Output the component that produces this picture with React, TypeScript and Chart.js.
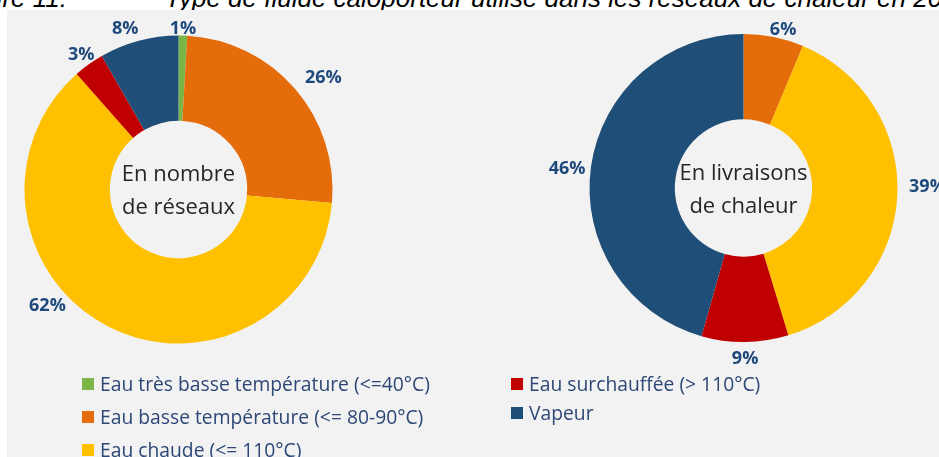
import React, { useEffect, useRef } from 'react';
import { Chart, registerables } from 'chart.js';

Chart.register(...registerables);

// ---------- data ----------
const categories = [
  'Eau très basse température (<=40°C)',
  'Eau basse température (<= 80-90°C)',
  'Eau chaude (<= 110°C)',
  'Eau surchauffée (> 110°C)',
  'Vapeur',
];
const sliceColors = ['#79b547', '#e46c0a', '#ffc000', '#c00000', '#1f4e79'];
const reseauxValues = [0.9, 25.5, 62.1, 3.2, 8.3];
const livraisonsValues = [0, 6.3, 39.0, 9.1, 45.6];
const reseauxCenter = ['En nombre', 'de réseaux'];
const livraisonsCenter = ['En livraisons', 'de chaleur'];
const titleLead = 'Figure 11:';
const titleText = 'Type de fluide caloporteur utilisé dans les réseaux de chaleur en 2019';

// legend layout: [column, row] for each category
const legendSlots = [
  [0, 0],
  [0, 1],
  [0, 2],
  [1, 0],
  [1, 1],
];

const FONT = "'Open Sans', 'DejaVu Sans', sans-serif";
const LABEL_SIZE = 18;

const outLabels = {
  id: 'outLabels',
  afterDatasetsDraw(chart: any, _args: any, opts: any) {
    const ctx = chart.ctx;
    const meta = chart.getDatasetMeta(0);
    const data = chart.data.datasets[0].data as number[];
    ctx.save();
    ctx.font = `bold ${LABEL_SIZE}px ${FONT}`;
    ctx.fillStyle = opts.color;
    ctx.textAlign = 'center';
    ctx.textBaseline = 'alphabetic';
    meta.data.forEach((arc: any, i: number) => {
      const v = data[i];
      if (!v) return;
      const p = arc.getProps(['x', 'y', 'startAngle', 'endAngle', 'outerRadius'], true);
      const nudge = (opts.nudges && opts.nudges[i]) || [0, 0];
      const a = (p.startAngle + p.endAngle) / 2 + (nudge[0] * Math.PI) / 180;
      const text = Math.round(v) + '%';
      const w = ctx.measureText(text).width;
      const h = LABEL_SIZE * 0.72;
      const ux = Math.cos(a);
      const uy = Math.sin(a);
      const d = p.outerRadius + opts.gap + (Math.abs(ux) * w) / 2 + (Math.abs(uy) * h) / 2 + nudge[1];
      ctx.fillText(text, p.x + ux * d, p.y + uy * d + h / 2);
    });
    ctx.restore();
  },
};

const centerText = {
  id: 'centerText',
  afterDatasetsDraw(chart: any, _args: any, opts: any) {
    const ctx = chart.ctx;
    const arc = chart.getDatasetMeta(0).data[0] as any;
    if (!arc) return;
    const { x, y } = arc.getProps(['x', 'y'], true);
    ctx.save();
    ctx.font = `22px ${FONT}`;
    ctx.fillStyle = '#262626';
    ctx.textAlign = 'center';
    ctx.textBaseline = 'alphabetic';
    const lines: string[] = opts.lines || [];
    ctx.fillText(lines[0] || '', x, y - 8.5);
    ctx.fillText(lines[1] || '', x, y + 24.5);
    ctx.restore();
  },
};

function Doughnut(props: { values: number[]; center: string[]; padding: any; nudges: number[][] }) {
  const ref = useRef<HTMLCanvasElement>(null);
  useEffect(() => {
    const chart = new Chart(ref.current as HTMLCanvasElement, {
      type: 'doughnut',
      data: {
        labels: categories,
        datasets: [
          {
            data: props.values,
            backgroundColor: sliceColors,
            borderWidth: 0,
          },
        ],
      },
      options: {
        responsive: false,
        animation: false,
        devicePixelRatio: 1,
        cutout: '44.6%',
        layout: { padding: props.padding },
        events: [],
        plugins: {
          legend: { display: false },
          tooltip: { enabled: false },
          outLabels: { color: '#1f497d', gap: 6, nudges: props.nudges },
          centerText: { lines: props.center },
        } as any,
      },
      plugins: [outLabels, centerText],
    });
    return () => chart.destroy();
  }, []);
  return (
    <canvas
      ref={ref}
      width={939}
      height={457}
      style={{ position: 'absolute', left: 0, top: 0, width: 939, height: 457 }}
    />
  );
}

function Legend() {
  const colX = [82, 511];
  const rowStep = [32.8, 29];
  const firstTop = 378;
  return (
    <>
      {categories.map((c, i) => {
        const [col, row] = legendSlots[i];
        const top = firstTop + row * rowStep[col];
        return (
          <React.Fragment key={c}>
            <div
              style={{
                position: 'absolute',
                left: colX[col],
                top: top,
                width: 12,
                height: 12,
                background: sliceColors[i],
              }}
            />
            <div
              style={{
                position: 'absolute',
                left: colX[col] + 18,
                top: top + 13 - 20,
                font: `19.3px ${FONT}`,
                lineHeight: '25px',
                color: '#2d4776',
                whiteSpace: 'nowrap',
              }}
            >
              {c}
            </div>
          </React.Fragment>
        );
      })}
    </>
  );
}

const titleStyle: React.CSSProperties = {
  position: 'absolute',
  top: -15,
  font: `italic 26px 'Liberation Sans', Arial, sans-serif`,
  lineHeight: '26px',
  color: '#000',
  whiteSpace: 'nowrap',
};

export default function App() {
  return (
    <div
      style={{
        position: 'absolute',
        left: 0,
        top: 0,
        width: 939,
        height: 457,
        overflow: 'hidden',
        background: '#ffffff',
      }}
    >
      <div style={{ ...titleStyle, right: 939 - 67 }}>{titleLead}</div>
      <div style={{ ...titleStyle, left: 165 }}>{titleText}</div>
      <div
        style={{
          position: 'absolute',
          left: 7,
          top: 10,
          right: 0,
          bottom: 0,
          background: '#f2f2f2',
        }}
      />
      <Doughnut
        values={reseauxValues}
        center={reseauxCenter}
        padding={{ left: 24.5, right: 606.5, top: 35.5, bottom: 113.5 }}
        nudges={[
          [0, -5],
          [3, 5],
          [22, -4],
          [0, -6],
          [-3.3, 0],
        ]}
      />
      <Doughnut
        values={livraisonsValues}
        center={livraisonsCenter}
        padding={{ left: 589.5, right: 41.5, top: 34, bottom: 115 }}
        nudges={[
          [0, 0],
          [2.6, -5],
          [-3.5, 5.5],
          [0, 2.5],
          [-1.2, -1.5],
        ]}
      />
      <Legend />
    </div>
  );
}
